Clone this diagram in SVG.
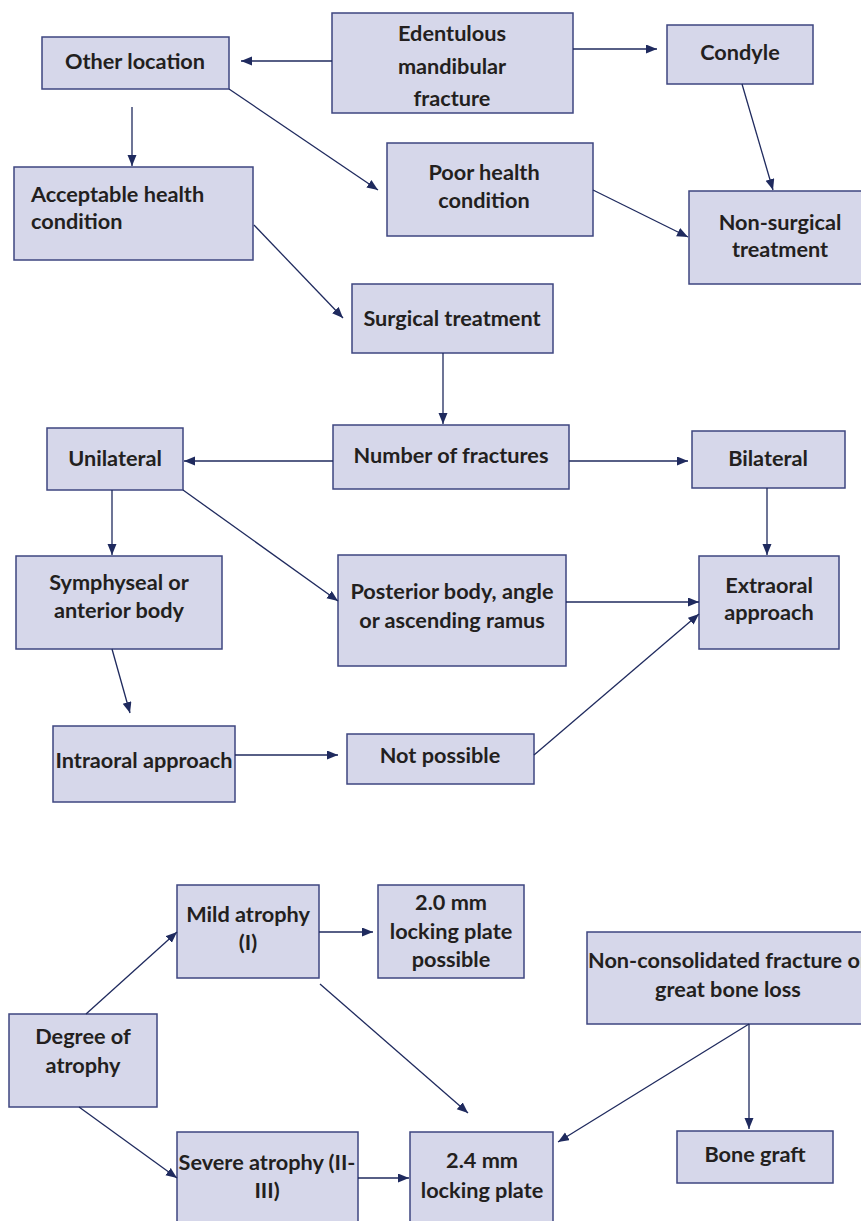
<svg xmlns="http://www.w3.org/2000/svg" width="861" height="1221" viewBox="0 0 861 1221">
<style>
.b{fill:#d6d7ea;stroke:#3e4680;stroke-width:1.5}
.t{font-family:Lato,"Liberation Sans",sans-serif;font-weight:700;font-size:21.7px;fill:#231f20;text-anchor:middle}
.l{text-anchor:start}
.c line{stroke:#1f2a5e;stroke-width:1.3;marker-end:url(#a)}
</style>
<defs>
<marker id="a" markerUnits="userSpaceOnUse" markerWidth="12" markerHeight="10" refX="11" refY="4.5" orient="auto">
<path d="M0,0 L11,4.5 L0,9 z" fill="#1f2a5e"/>
</marker>
</defs>
<rect width="861" height="1221" fill="#fff"/>
<g id="n-edentulous"><rect class="b" x="332" y="13" width="241" height="100"/><text class="t" x="452" y="41">Edentulous</text><text class="t" x="452" y="73.5">mandibular</text><text class="t" x="452" y="106">fracture</text></g>
<g id="n-other"><rect class="b" x="42" y="37" width="187" height="52"/><text class="t" x="135" y="69">Other location</text></g>
<g id="n-condyle"><rect class="b" x="667" y="25" width="146" height="59"/><text class="t" x="740" y="60">Condyle</text></g>
<g id="n-acceptable"><rect class="b" x="14" y="167" width="239" height="93"/><text class="t l" x="31" y="201.5">Acceptable health</text><text class="t l" x="31" y="229">condition</text></g>
<g id="n-poor"><rect class="b" x="387" y="143" width="206" height="93"/><text class="t" x="484" y="180">Poor health</text><text class="t" x="484" y="208">condition</text></g>
<g id="n-nonsurgical"><rect class="b" x="689" y="191" width="182" height="93"/><text class="t" x="780" y="230">Non-surgical</text><text class="t" x="780" y="257">treatment</text></g>
<g id="n-surgical"><rect class="b" x="352" y="284" width="201" height="69"/><text class="t" x="452" y="326">Surgical treatment</text></g>
<g id="n-number"><rect class="b" x="333" y="425" width="236" height="64"/><text class="t" x="451" y="463">Number of fractures</text></g>
<g id="n-unilateral"><rect class="b" x="47" y="428" width="136" height="62"/><text class="t" x="115" y="466">Unilateral</text></g>
<g id="n-bilateral"><rect class="b" x="692" y="431" width="153" height="57"/><text class="t" x="768" y="466">Bilateral</text></g>
<g id="n-symphyseal"><rect class="b" x="16" y="556" width="206" height="93"/><text class="t" x="119" y="590">Symphyseal or</text><text class="t" x="119" y="618">anterior body</text></g>
<g id="n-posterior"><rect class="b" x="338" y="555" width="228" height="111"/><text class="t" x="452" y="599">Posterior body, angle</text><text class="t" x="452" y="628">or ascending ramus</text></g>
<g id="n-extraoral"><rect class="b" x="699" y="556" width="140" height="93"/><text class="t" x="769" y="592.5">Extraoral</text><text class="t" x="769" y="620">approach</text></g>
<g id="n-intraoral"><rect class="b" x="53" y="726" width="182" height="76"/><text class="t" x="144" y="768">Intraoral approach</text></g>
<g id="n-notpossible"><rect class="b" x="347" y="734" width="187" height="50"/><text class="t" x="440" y="763">Not possible</text></g>
<g id="n-mild"><rect class="b" x="177" y="885" width="142" height="93"/><text class="t" x="248" y="921.5">Mild atrophy</text><text class="t" x="248" y="950">(I)</text></g>
<g id="n-20mm"><rect class="b" x="378" y="885" width="146" height="93"/><text class="t" x="451" y="910">2.0 mm</text><text class="t" x="451" y="938.5">locking plate</text><text class="t" x="451" y="967">possible</text></g>
<g id="n-degree"><rect class="b" x="9" y="1014" width="148" height="93"/><text class="t" x="83" y="1044">Degree of</text><text class="t" x="83" y="1073">atrophy</text></g>
<g id="n-severe"><rect class="b" x="177" y="1132" width="181" height="100"/><text class="t" x="267" y="1170">Severe atrophy (II-</text><text class="t" x="267" y="1198">III)</text></g>
<g id="n-24mm"><rect class="b" x="410" y="1132" width="143" height="100"/><text class="t" x="482" y="1168">2.4 mm</text><text class="t" x="482" y="1198">locking plate</text></g>
<g id="n-nonconsolidated"><rect class="b" x="587" y="932" width="283" height="92"/><text class="t" x="728" y="968">Non-consolidated fracture or</text><text class="t" x="728" y="997">great bone loss</text></g>
<g id="n-bonegraft"><rect class="b" x="677" y="1131" width="156" height="52"/><text class="t" x="755" y="1161.5">Bone graft</text></g>
<g id="connectors" class="c">
<line x1="332" y1="61" x2="241" y2="61"/>
<line x1="573" y1="49" x2="657" y2="49"/>
<line x1="132" y1="107" x2="132" y2="166"/>
<line x1="229" y1="89" x2="378" y2="190"/>
<line x1="742" y1="84" x2="773" y2="190"/>
<line x1="593" y1="190" x2="688" y2="237"/>
<line x1="254" y1="225" x2="343" y2="318"/>
<line x1="443" y1="353" x2="443" y2="424"/>
<line x1="333" y1="461" x2="184" y2="461"/>
<line x1="569" y1="461" x2="688" y2="461"/>
<line x1="112" y1="490" x2="112" y2="555"/>
<line x1="183" y1="490" x2="338" y2="601"/>
<line x1="767" y1="488" x2="767" y2="555"/>
<line x1="566" y1="602" x2="699" y2="602"/>
<line x1="112" y1="649" x2="130" y2="713"/>
<line x1="235" y1="755" x2="338" y2="755"/>
<line x1="534" y1="755" x2="699" y2="614"/>
<line x1="86" y1="1014" x2="177" y2="932"/>
<line x1="79" y1="1107" x2="177" y2="1178"/>
<line x1="319" y1="932" x2="373" y2="932"/>
<line x1="320" y1="984" x2="468" y2="1113"/>
<line x1="358" y1="1178" x2="409" y2="1178"/>
<line x1="749" y1="1024" x2="558" y2="1142"/>
<line x1="749" y1="1024" x2="749" y2="1129"/>
</g>
</svg>
